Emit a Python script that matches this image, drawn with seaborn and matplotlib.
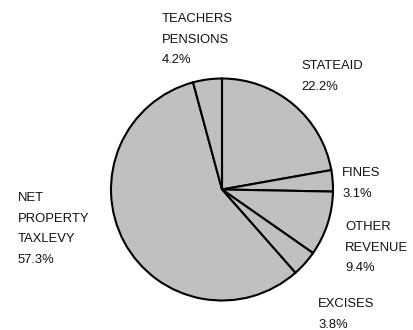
import matplotlib
matplotlib.use("Agg")
import matplotlib.pyplot as plt
import seaborn as sns

# Revenue sources (percent of total), clockwise from 12 o'clock
categories = ["STATEAID", "FINES", "OTHER\nREVENUE", "EXCISES",
              "NET\nPROPERTY\nTAXLEVY", "TEACHERS\nPENSIONS"]
shares = [22.2, 3.1, 9.4, 3.8, 57.3, 4.2]

sns.set_theme(style="white")
plt.rcParams["font.family"] = ["Liberation Sans", "DejaVu Sans"]

W, H = 414, 330
fig = plt.figure(figsize=(W / 100, H / 100), dpi=100)
ax = fig.add_axes([0, 0, 1, 1])

# pie drawn in pixel-like coordinates; y axis is inverted so direction flips
ax.pie(shares, startangle=-90, counterclock=True,
       center=(222, 189.5), radius=111, frame=True,
       colors=["#c0c0c0"] * len(shares),
       wedgeprops=dict(edgecolor="black", linewidth=1.5))
ax.set_xlim(0, W)
ax.set_ylim(H, 0)
ax.set_aspect("equal")
ax.axis("off")

# label anchors (left edge, top of first line)
label_pos = [(301, 60), (342, 167), (345, 221), (318, 298), (18, 192), (162, 13)]
for name, val, (x, y) in zip(categories, shares, label_pos):
    ax.text(x, y, f"{name}\n{val:.1f}%", ha="left", va="top",
            fontsize=9.4, color="#111111", linespacing=1.95)

fig.savefig("out.png", dpi=100)
